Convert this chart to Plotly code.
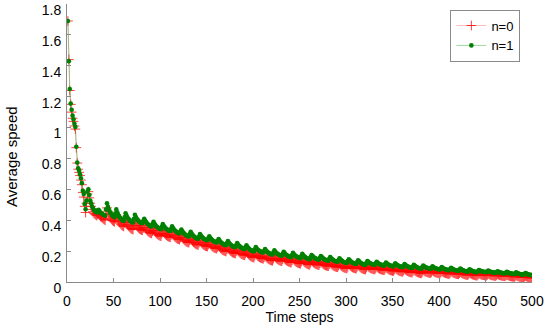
import plotly.graph_objects as go

# Average speed per time step
speed_n0 = [
    1.69, 1.44, 1.24, 1.15, 1.10, 1.06, 1.04, 1.01, 0.99, 0.87,
    0.77, 0.73, 0.71, 0.69, 0.66, 0.63, 0.58, 0.55, 0.49, 0.45,
    0.51, 0.57, 0.585, 0.545, 0.51, 0.49, 0.47, 0.455, 0.445, 0.44,
    0.435, 0.43, 0.44, 0.445, 0.435, 0.425, 0.42, 0.415, 0.41, 0.405,
    0.40, 0.44,
    .480, .458, .440, .426, .415, .406, .399, .394, .390, .415,
    .435, .416, .401, .390, .381, .374, .368, .363, .360, .385,
    .400, .385, .373, .364, .357, .351, .346, .342, .340, .365,
    .390, .376, .365, .357, .350, .345, .341, .337, .335, .350,
    .365, .353, .343, .335, .329, .324, .320, .317, .315, .330,
    .345, .333, .323, .316, .310, .306, .302, .299, .297, .314,
    .335, .324, .315, .308, .303, .298, .294, .292, .290, .305,
    .320, .309, .300, .293, .288, .283, .279, .277, .275, .288,
    .300, .289, .280, .273, .268, .263, .259, .257, .255, .270,
    .285, .274, .265, .258, .253, .248, .244, .242, .240, .255,
    .270, .260, .252, .246, .241, .237, .234, .232, .230, .243,
    .256, .246, .238, .232, .227, .223, .220, .218, .216, .227,
    .238, .228, .220, .214, .209, .205, .202, .200, .198, .212,
    .225, .215, .207, .201, .196, .192, .189, .187, .185, .199,
    .213, .203, .195, .189, .184, .180, .177, .175, .173, .186,
    .198, .188, .180, .174, .169, .165, .162, .160, .158, .172,
    .186, .177, .170, .165, .161, .157, .155, .152, .151, .162,
    .173, .164, .157, .152, .148, .144, .142, .139, .138, .152,
    .170, .161, .154, .149, .145, .141, .139, .136, .135, .148,
    .161, .152, .145, .140, .136, .132, .130, .127, .126, .140,
    .154, .145, .138, .133, .129, .125, .123, .120, .119, .133,
    .147, .138, .131, .126, .122, .118, .116, .113, .112, .126,
    .140, .133, .127, .122, .118, .115, .113, .111, .110, .122,
    .133, .126, .120, .115, .111, .108, .106, .104, .103, .115,
    .126, .119, .113, .108, .104, .101, .099, .097, .096, .107,
    .118, .111, .105, .100, .096, .093, .091, .089, .088, .100,
    .117, .110, .104, .099, .095, .092, .090, .088, .087, .099,
    .111, .104, .098, .093, .089, .086, .084, .082, .081, .094,
    .106, .100, .095, .091, .088, .086, .084, .082, .081, .091,
    .101, .095, .090, .086, .083, .081, .079, .077, .076, .086,
    .096, .090, .085, .081, .078, .076, .074, .072, .071, .081,
    .091, .085, .080, .076, .073, .071, .069, .067, .066, .076,
    .086, .080, .075, .071, .068, .066, .064, .062, .061, .071,
    .081, .075, .070, .066, .063, .061, .059, .057, .056, .066,
    .078, .073, .069, .066, .064, .062, .060, .059, .058, .066,
    .075, .070, .066, .063, .061, .059, .057, .056, .055, .063,
    .072, .067, .063, .060, .058, .056, .054, .053, .052, .060,
    .070, .065, .061, .058, .056, .054, .052, .051, .050, .058,
    .065, .060, .056, .053, .051, .049, .047, .046, .045, .053,
    .061, .056, .052, .049, .047, .045, .043, .042, .041, .049,
    .056, .052, .049, .047, .045, .044, .043, .042, .041, .047,
    .054, .050, .047, .045, .043, .042, .041, .040, .039, .045,
    .052, .048, .045, .043, .041, .040, .039, .038, .037, .043,
    .048, .044, .041, .039, .037, .036, .035, .034, .033, .039,
    .044, .040, .037, .035, .033, .032, .031, .030, .029, .035,
    .040, .036, .033, .031, .029, .028, .027, .026,
]

speed_n1 = [
    1.69, 1.43, 1.25, 1.155, 1.115, 1.077, 1.054, 1.025, 1.004, 0.876,
    0.773, 0.736, 0.721, 0.698, 0.672, 0.64, 0.591, 0.57, 0.505, 0.471,
    0.527, 0.585, 0.60, 0.563, 0.527, 0.51, 0.49, 0.477, 0.466, 0.46,
    0.455, 0.45, 0.465, 0.468, 0.458, 0.45, 0.445, 0.44, 0.435, 0.432,
    0.43, 0.47,
    .510, .488, .470, .456, .445, .436, .429, .424, .420, .445,
    .470, .451, .436, .425, .416, .409, .403, .398, .395, .420,
    .445, .430, .418, .409, .402, .396, .391, .387, .385, .410,
    .435, .421, .410, .402, .395, .390, .386, .382, .380, .395,
    .410, .398, .388, .380, .374, .369, .365, .362, .360, .375,
    .390, .378, .368, .361, .355, .351, .347, .344, .342, .359,
    .375, .364, .355, .348, .343, .338, .334, .332, .330, .345,
    .360, .349, .340, .333, .328, .323, .319, .317, .315, .328,
    .340, .329, .320, .313, .308, .303, .299, .297, .295, .310,
    .325, .314, .305, .298, .293, .288, .284, .282, .280, .295,
    .310, .300, .292, .286, .281, .277, .274, .272, .270, .283,
    .296, .286, .278, .272, .267, .263, .260, .258, .256, .267,
    .278, .268, .260, .254, .249, .245, .242, .240, .238, .252,
    .265, .255, .247, .241, .236, .232, .229, .227, .225, .239,
    .253, .243, .235, .229, .224, .220, .217, .215, .213, .226,
    .238, .228, .220, .214, .209, .205, .202, .200, .198, .212,
    .226, .217, .210, .205, .201, .197, .195, .192, .191, .202,
    .213, .204, .197, .192, .188, .184, .182, .179, .178, .192,
    .205, .196, .189, .184, .180, .176, .174, .171, .170, .183,
    .196, .187, .180, .175, .171, .167, .165, .162, .161, .175,
    .189, .180, .173, .168, .164, .160, .158, .155, .154, .168,
    .182, .173, .166, .161, .157, .153, .151, .148, .147, .161,
    .175, .168, .162, .157, .153, .150, .148, .146, .145, .157,
    .168, .161, .155, .150, .146, .143, .141, .139, .138, .150,
    .161, .154, .148, .143, .139, .136, .134, .132, .131, .142,
    .153, .146, .140, .135, .131, .128, .126, .124, .123, .135,
    .147, .140, .134, .129, .125, .122, .120, .118, .117, .129,
    .141, .134, .128, .123, .119, .116, .114, .112, .111, .124,
    .136, .130, .125, .121, .118, .116, .114, .112, .111, .121,
    .131, .125, .120, .116, .113, .111, .109, .107, .106, .116,
    .126, .120, .115, .111, .108, .106, .104, .102, .101, .111,
    .121, .115, .110, .106, .103, .101, .099, .097, .096, .106,
    .116, .110, .105, .101, .098, .096, .094, .092, .091, .101,
    .111, .105, .100, .096, .093, .091, .089, .087, .086, .096,
    .106, .101, .097, .094, .092, .090, .088, .087, .086, .094,
    .101, .096, .092, .089, .087, .085, .083, .082, .081, .089,
    .096, .091, .087, .084, .082, .080, .078, .077, .076, .084,
    .092, .087, .083, .080, .078, .076, .074, .073, .072, .080,
    .087, .082, .078, .075, .073, .071, .069, .068, .067, .075,
    .083, .078, .074, .071, .069, .067, .065, .064, .063, .071,
    .078, .074, .071, .069, .067, .066, .065, .064, .063, .069,
    .074, .070, .067, .065, .063, .062, .061, .060, .059, .065,
    .070, .066, .063, .061, .059, .058, .057, .056, .055, .061,
    .066, .062, .059, .057, .055, .054, .053, .052, .051, .057,
    .062, .058, .055, .053, .051, .050, .049, .048, .047, .053,
    .058, .054, .051, .049, .047, .046, .045, .044,
]

steps_n0 = list(range(1, len(speed_n0) + 1))
steps_n1 = list(range(1, len(speed_n1) + 1))

series_names = ["n=0", "n=1"]
x_ticks = [0, 50, 100, 150, 200, 250, 300, 350, 400, 450, 500]
y_ticks = [0, 0.2, 0.4, 0.6, 0.8, 1.0, 1.2, 1.4, 1.6, 1.8]
y_tick_text = ["0", "0.2", "0.4", "0.6", "0.8", "1", "1.2", "1.4", "1.6", "1.8"]
x_title = "Time steps"
y_title = "Average speed"

FONT = "Liberation Sans, Arial, sans-serif"
AXIS_GREY = "#8a8a8a"

fig = go.Figure()
fig.add_trace(go.Scatter(
    x=steps_n0, y=speed_n0, name=series_names[0], mode="lines+markers",
    line=dict(color="rgba(255,90,90,0.5)", width=0.8),
    marker=dict(symbol="cross-thin", size=7, line=dict(color="rgba(255,0,0,0.75)", width=1)),
))
fig.add_trace(go.Scatter(
    x=steps_n1, y=speed_n1, name=series_names[1], mode="lines+markers",
    line=dict(color="rgba(60,170,60,0.6)", width=0.8),
    marker=dict(symbol="circle", size=4.6, color="#008000"),
))

fig.update_layout(
    width=550, height=329,
    margin=dict(l=67, r=18, t=4, b=47, autoexpand=False),
    paper_bgcolor="white", plot_bgcolor="white",
    font=dict(family=FONT, size=14, color="black"),
    showlegend=True,
    legend=dict(
        x=0.975, y=0.98, xanchor="right", yanchor="top",
        bgcolor="white", bordercolor=AXIS_GREY, borderwidth=1,
        font=dict(size=13), itemwidth=30, tracegroupgap=0,
    ),
    annotations=[dict(
        text=y_title, textangle=-90, showarrow=False,
        xref="paper", yref="paper", x=-0.118, y=0.45,
        xanchor="center", yanchor="middle", font=dict(size=15),
    )],
)
fig.update_xaxes(
    range=[0, 500], tickvals=x_ticks, showgrid=False, zeroline=False,
    showline=True, linecolor=AXIS_GREY, linewidth=1, mirror=False,
    ticks="inside", ticklen=4, tickcolor=AXIS_GREY, automargin=False,
    tickfont=dict(size=14), ticklabelstandoff=6,
    title=dict(text=x_title, font=dict(size=14), standoff=0),
)
fig.update_yaxes(
    range=[0, 1.8], tickvals=y_ticks, ticktext=y_tick_text, showgrid=False, zeroline=False,
    showline=True, linecolor=AXIS_GREY, linewidth=1, mirror=False,
    ticks="inside", ticklen=4, tickcolor=AXIS_GREY, automargin=False,
    tickfont=dict(size=14), ticklabelshift=6, ticklabelstandoff=2,
)

fig.write_html(
    "out.html",
    config={"displayModeBar": False},
    post_script="document.body.style.margin='0';document.body.style.padding='0';",
)
